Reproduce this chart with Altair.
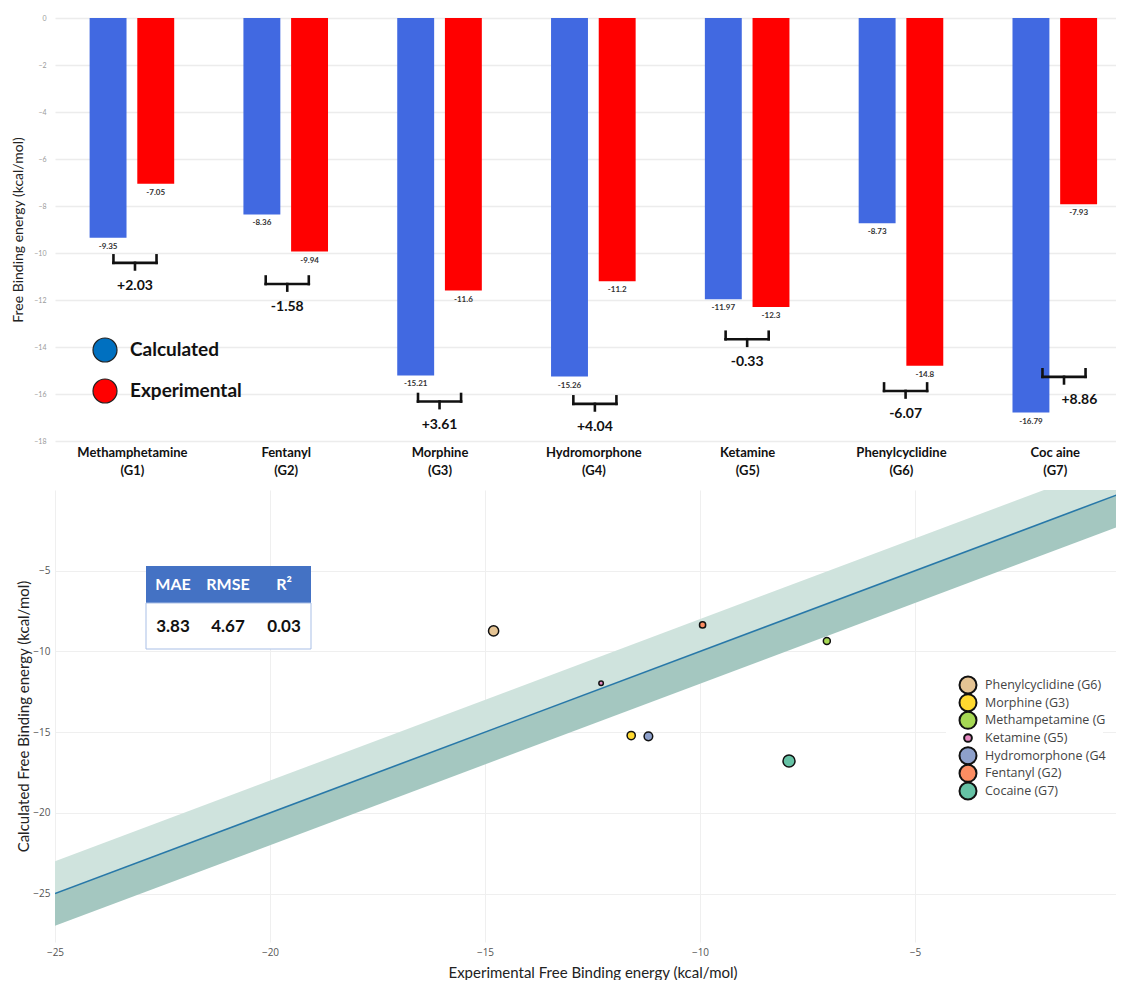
import json
import altair as alt
import pandas as pd

# ---------------- data: bar chart ----------------
compounds = ["Methamphetamine", "Fentanyl", "Morphine", "Hydromorphone", "Ketamine", "Phenylcyclidine", "Coc aine"]
group_codes = ["(G1)", "(G2)", "(G3)", "(G4)", "(G5)", "(G6)", "(G7)"]
calculated = [-9.35, -8.36, -15.21, -15.26, -11.97, -8.73, -16.79]
experimental = [-7.05, -9.94, -11.6, -11.2, -12.3, -14.8, -7.93]
difference_labels = ["+2.03", "-1.58", "+3.61", "+4.04", "-0.33", "-6.07", "+8.86"]
series_names = ["Calculated", "Experimental"]
bar_colors = ["#4169e1", "#ff0000"]
legend_colors = ["#0070c0", "#ff0000"]

# annotation layout for the braces (level of brace top, horizontal shifts)
brace_level = [-10.1, -11.0, -16.0, -16.1, -13.35, -15.55, -14.95]
brace_shift = [0.02, 0.01, 0.0, 0.01, 0.0, 0.03, 0.06]
label_shift = [0.0, 0.0, 0.0, 0.0, 0.0, 0.0, 0.1]

# ---------------- data: scatter ----------------
scatter_names = ["Phenylcyclidine (G6)", "Morphine (G3)", "Methampetamine (G", "Ketamine (G5)",
                 "Hydromorphone (G4", "Fentanyl (G2)", "Cocaine (G7)"]
scatter_exp = [-14.8, -11.6, -7.05, -12.3, -11.2, -9.94, -7.93]
scatter_calc = [-8.73, -15.21, -9.35, -11.97, -15.26, -8.36, -16.79]
scatter_colors = ["#e5c494", "#ffd92f", "#a6d854", "#e78ac3", "#8da0cb", "#fc8d62", "#66c2a5"]
metric_names = ["MAE", "RMSE", "R²"]
metric_values = ["3.83", "4.67", "0.03"]
tolerance = 2.0
diag_range = [-25, 0]

# ---------------- top chart ----------------
bar_rows = []
for i, (c, e) in enumerate(zip(calculated, experimental)):
    bar_rows.append(dict(series="Calculated", value=c, x0=i - 0.275, x1=i - 0.035, xc=i - 0.155,
                         zero=0, label=f"{c:g}"))
    bar_rows.append(dict(series="Experimental", value=e, x0=i + 0.035, x1=i + 0.275, xc=i + 0.155,
                         zero=0, label=f"{e:g}"))
bars_df = pd.DataFrame(bar_rows)

seg_rows = []
lab_rows = []
hw, h, tk = 0.14, 0.32, 0.28
for i, (lvl, sh, lsh, d) in enumerate(zip(brace_level, brace_shift, label_shift, difference_labels)):
    c = i + sh
    seg_rows += [
        dict(xa=c - hw, xb=c - hw, ya=lvl, yb=lvl - h),
        dict(xa=c + hw, xb=c + hw, ya=lvl, yb=lvl - h),
        dict(xa=c - hw, xb=c + hw, ya=lvl - h, yb=lvl - h),
        dict(xa=c, xb=c, ya=lvl - h, yb=lvl - h - tk),
    ]
    lab_rows.append(dict(x=c + lsh, y=lvl - 1.3, text=d))
seg_df = pd.DataFrame(seg_rows)
diff_df = pd.DataFrame(lab_rows)

label_arr = json.dumps([[n, g] for n, g in zip(compounds, group_codes)])

xs_top = alt.Scale(domain=[-0.5, 6.45], nice=False, zero=False)
ys_top = alt.Scale(domain=[-18, 0], nice=False, zero=False)
x_axis_top = alt.Axis(
    values=list(range(7)), labelExpr=f"{label_arr}[datum.value]", title=None, grid=False,
    domain=False, ticks=False, labelFont="Lato", labelFontSize=13, labelFontWeight="bold",
    labelColor="#111", labelLineHeight=18, labelPadding=5, labelBaseline="top",
    labelAlign="center", labelOverlap=False, labelFlush=False)
y_axis_top = alt.Axis(
    values=list(range(-18, 1, 2)), title="Free Binding energy (kcal/mol)", titleFont="Lato",
    titleFontSize=14, titleFontWeight="normal", titleColor="#222", titlePadding=8,
    labelFont="Lato", labelFontSize=7, labelColor="#9a9a9a", labelPadding=9,
    gridColor="#ececec", gridWidth=1.5, domain=False, ticks=False)

bars = alt.Chart(bars_df).mark_rect().encode(
    x=alt.X("x0:Q", scale=xs_top, axis=x_axis_top),
    x2="x1:Q",
    y=alt.Y("value:Q", scale=ys_top, axis=y_axis_top),
    y2="zero:Q",
    color=alt.Color("series:N", scale=alt.Scale(domain=series_names, range=bar_colors), legend=None),
)

value_text = alt.Chart(bars_df).mark_text(dy=9, fontSize=8, fontWeight="bold", font="Lato",
                                          color="#333").encode(
    x=alt.X("xc:Q", scale=xs_top, axis=x_axis_top),
    y=alt.Y("value:Q", scale=ys_top, axis=y_axis_top),
    text="label:N",
)

braces = alt.Chart(seg_df).mark_rule(color="#111", strokeWidth=2.6, strokeCap="square").encode(
    x=alt.X("xa:Q", scale=xs_top, axis=x_axis_top), x2="xb:Q",
    y=alt.Y("ya:Q", scale=ys_top, axis=y_axis_top), y2="yb:Q",
)

diff_text = alt.Chart(diff_df).mark_text(fontSize=14, fontWeight="bold", font="Lato",
                                         color="#111").encode(
    x=alt.X("x:Q", scale=xs_top, axis=x_axis_top),
    y=alt.Y("y:Q", scale=ys_top, axis=y_axis_top),
    text="text:N",
)

# legend for the bar chart (own y point scale for the legend rows)
leg_top_df = pd.DataFrame({"series": series_names})
leg_top_y = alt.Y("series:N", sort=series_names, axis=None,
                  scale=alt.Scale(type="point", range=[332, 373], padding=0))
leg_top_pts = alt.Chart(leg_top_df).mark_point(
    filled=True, opacity=1, size=576, stroke="#222", strokeWidth=1.2).encode(
    x=alt.value(50), y=leg_top_y,
    fill=alt.Fill("series:N", scale=alt.Scale(domain=series_names, range=legend_colors), legend=None),
)
leg_top_txt = alt.Chart(leg_top_df).mark_text(
    align="left", baseline="middle", font="Lato", fontSize=19, fontWeight="bold", color="#111").encode(
    x=alt.value(75), y=leg_top_y, text="series:N",
)

top_main = alt.layer(bars, value_text, braces, diff_text)
top_leg = alt.layer(leg_top_pts, leg_top_txt)
top = alt.layer(top_main, top_leg).resolve_scale(y="independent").properties(width=1069, height=423)

# ---------------- bottom chart ----------------
sc_df = pd.DataFrame({"name": scatter_names, "exp": scatter_exp, "calc": scatter_calc})
sc_df["err"] = (sc_df["calc"] - sc_df["exp"]).abs()

xs_b = alt.Scale(domain=[-25, 0], nice=False, zero=False)
ys_b = alt.Scale(domain=[-28, 0], nice=False, zero=False)
fill_b = alt.Scale(domain=scatter_names, range=scatter_colors)
x_axis_b = alt.Axis(
    values=[-25, -20, -15, -10, -5], title="Experimental Free Binding energy (kcal/mol)",
    titleFont="Lato", titleFontSize=15, titleFontWeight="normal", titleColor="#222",
    titlePadding=8, labelFont="Open Sans", labelFontSize=10, labelColor="#555",
    labelPadding=5, labelFlush=False, labelExpr="replace(datum.label, '-', '−')",
    gridColor="#efefef", domain=False, ticks=False)
y_axis_b = alt.Axis(
    values=[-25, -20, -15, -10, -5], title="Calculated Free Binding energy (kcal/mol)",
    titleFont="Lato", titleFontSize=15, titleFontWeight="normal", titleColor="#222",
    titlePadding=1, labelFont="Open Sans", labelFontSize=10, labelColor="#555",
    labelPadding=5, labelFlush=False, labelExpr="replace(datum.label, '-', '−')",
    gridColor="#efefef", domain=False, ticks=False)

diag_df = pd.DataFrame({"x": diag_range})
diag_base = alt.Chart(diag_df).transform_calculate(
    y="datum.x", up=f"datum.x + {tolerance}", lo=f"datum.x - {tolerance}")

band_up = diag_base.mark_area(clip=True, color="#cfe3dd", opacity=1).encode(
    x=alt.X("x:Q", scale=xs_b, axis=x_axis_b),
    y=alt.Y("y:Q", scale=ys_b, axis=y_axis_b),
    y2="up:Q",
)
band_lo = diag_base.mark_area(clip=True, color="#a4c7c0", opacity=1).encode(
    x=alt.X("x:Q", scale=xs_b, axis=x_axis_b),
    y=alt.Y("lo:Q", scale=ys_b, axis=y_axis_b),
    y2="y:Q",
)
diag_line = diag_base.mark_line(clip=True, color="#2878a8", strokeWidth=1.6).encode(
    x=alt.X("x:Q", scale=xs_b, axis=x_axis_b),
    y=alt.Y("y:Q", scale=ys_b, axis=y_axis_b),
)

points = alt.Chart(sc_df).mark_point(filled=True, opacity=1, stroke="#111", strokeWidth=1.5).encode(
    x=alt.X("exp:Q", scale=xs_b, axis=x_axis_b),
    y=alt.Y("calc:Q", scale=ys_b, axis=y_axis_b),
    size=alt.Size("err:Q", scale=alt.Scale(domain=[0.33, 8.86], range=[20, 144]), legend=None),
    fill=alt.Fill("name:N", scale=fill_b, legend=None),
)

one = pd.DataFrame({"k": [0]})
table_head = alt.Chart(one).mark_rect(color="#4472c4").encode(
    x=alt.value(91), x2=alt.value(256), y=alt.value(76), y2=alt.value(113))
table_body = alt.Chart(one).mark_rect(fill="white", stroke="#a9bfe6", strokeWidth=1).encode(
    x=alt.value(91), x2=alt.value(256), y=alt.value(113), y2=alt.value(159))
table_layers = [table_head, table_body]
col_x = [118, 173, 229]
for name, val, cx in zip(metric_names, metric_values, col_x):
    table_layers.append(alt.Chart(pd.DataFrame({"t": [name]})).mark_text(
        font="Lato", fontSize=16, fontWeight="bold", color="white").encode(
        x=alt.value(cx), y=alt.value(95), text="t:N"))
    table_layers.append(alt.Chart(pd.DataFrame({"t": [val]})).mark_text(
        font="Lato", fontSize=17, fontWeight="bold", color="#111").encode(
        x=alt.value(cx), y=alt.value(137), text="t:N"))

# legend for the scatter (own y point scale for the rows)
leg_b_y = alt.Y("name:N", sort=scatter_names, axis=None,
                scale=alt.Scale(type="point", range=[195, 301], padding=0))
leg_b_bg = alt.Chart(one).mark_rect(fill="white").encode(
    x=alt.value(891), x2=alt.value(1048), y=alt.value(184), y2=alt.value(312))
leg_b_pts = alt.Chart(sc_df).mark_point(filled=True, opacity=1, stroke="#111", strokeWidth=2).encode(
    x=alt.value(913), y=leg_b_y,
    size=alt.condition("datum.err < 1", alt.value(60), alt.value(289)),
    fill=alt.Fill("name:N", scale=fill_b, legend=None),
)
leg_b_txt = alt.Chart(sc_df).mark_text(
    align="left", baseline="middle", font="Open Sans", fontSize=12.5, color="#444").encode(
    x=alt.value(930), y=leg_b_y, text="name:N",
)

bottom_main = alt.layer(band_up, band_lo, diag_line, points, *table_layers)
bottom_leg = alt.layer(leg_b_bg, leg_b_pts, leg_b_txt)
bottom = alt.layer(bottom_main, bottom_leg).resolve_scale(y="independent").properties(
    width=1075, height=452)

chart = alt.vconcat(top, bottom, spacing=13).resolve_scale(
    color="independent", fill="independent", size="independent"
).properties(
    padding={"left": 3, "top": 6, "right": -14, "bottom": 0}, background="white"
).configure_view(stroke=None)

chart.save("out.html", embed_options={"renderer": "svg", "actions": False})
